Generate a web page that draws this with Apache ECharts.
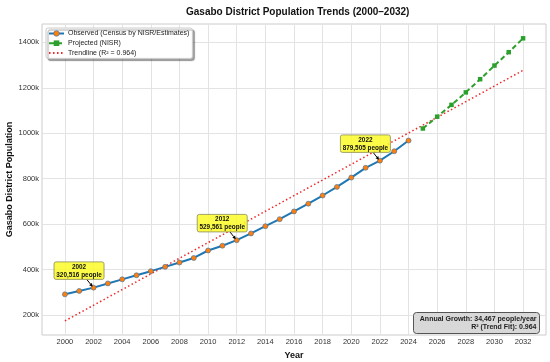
<!DOCTYPE html>
<html><head><meta charset="utf-8">
<script src="https://cdn.jsdelivr.net/npm/echarts@6/dist/echarts.min.js"></script>
<style>html,body{margin:0;padding:0;background:#fff}#c{width:550px;height:362px}</style>
</head><body><div id="c"></div>
<script>
var years = [2000,2001,2002,2003,2004,2005,2006,2007,2008,2009,2010,2011,2012,2013,2014,2015,2016,2017,2018,2019,2020,2021,2022,2023,2024];
var observed = [291000,306000,320516,339000,357000,375000,393000,412000,431000,451000,484000,505000,529561,559000,591000,622000,656000,690000,726000,764000,805000,848000,879505,921000,968000];
var projYears = [2025,2026,2027,2028,2029,2030,2031,2032];
var projected = [1021000,1073000,1125000,1180000,1238000,1298000,1357000,1418000];
var trendYears = [2000,2032];
var trendValues = [174000,1277000];
var xTicks = [2000,2002,2004,2006,2008,2010,2012,2014,2016,2018,2020,2022,2024,2026,2028,2030,2032];
var yTicks = [200000,400000,600000,800000,1000000,1200000,1400000];
var annoYears = [2002,2012,2022];
var annoValues = [320516,529561,879505];
var growthText = 'Annual Growth: 34,467 people/year';
var r2Text = 'R\u00b2 (Trend Fit): 0.964';

var FONT = '"Liberation Sans", Arial, sans-serif';
function pairs(xs, ys){ return xs.map(function(x,i){ return [x, ys[i]]; }); }

var chart = echarts.init(document.getElementById('c'));
chart.setOption({
  animation: false,
  backgroundColor: '#fff',
  title: {
    text: 'Gasabo District Population Trends (2000\u20132032)',
    left: 181, top: 2,
    textStyle: { fontFamily: FONT, fontSize: 10, fontWeight: 'bold', color: '#111' }
  },
  grid: { left: 42, right: 4, top: 24, bottom: 27, show: true, borderColor: '#cccccc', borderWidth: 1,
          containLabel: false, outerBoundsMode: 'none' },
  legend: {
    orient: 'vertical', left: 46, top: 28,
    itemWidth: 15, itemHeight: 7, itemGap: 2.7,
    padding: [2, 3, 2, 2],
    backgroundColor: '#ffffff', borderColor: '#cccccc', borderWidth: 1, borderRadius: 2,
    shadowColor: 'rgba(0,0,0,0.35)', shadowBlur: 1, shadowOffsetX: 2, shadowOffsetY: 2,
    textStyle: { fontFamily: FONT, fontSize: 7, color: '#222', padding: [0,0,0,-1] },
    data: [
      { name: 'Observed (Census by NISR/Estimates)', itemStyle: { color: '#ff7f0e', borderColor: '#3a6fa0', borderWidth: 0.6 } },
      { name: 'Projected (NISR)', itemStyle: { color: '#2ca02c', borderWidth: 0 } },
      { name: 'Trendline (R\u00b2 = 0.964)', itemStyle: { opacity: 0 } }
    ]
  },
  xAxis: {
    type: 'value', min: 1998.4, max: 2033.6,
    name: 'Year', nameLocation: 'middle', nameGap: 14,
    nameTextStyle: { fontFamily: FONT, fontSize: 9, fontWeight: 'bold', color: '#111' },
    axisLine: { show: false },
    axisTick: { show: false, customValues: xTicks },
    axisLabel: { customValues: xTicks, fontFamily: FONT, fontSize: 7.5, color: '#333', margin: 3,
      formatter: function(v){ return String(Math.round(v)); } },
    splitLine: { show: true, lineStyle: { color: '#e3e3e3', width: 1 } }
  },
  yAxis: {
    type: 'value', min: 112000, max: 1481000,
    name: 'Gasabo District Population', nameLocation: 'middle', nameGap: 28, nameMoveOverlap: false,
    nameTextStyle: { fontFamily: FONT, fontSize: 9, fontWeight: 'bold', color: '#111' },
    axisLine: { show: false },
    axisTick: { show: false, customValues: yTicks },
    axisLabel: { customValues: yTicks, fontFamily: FONT, fontSize: 7.5, color: '#333', margin: 3,
      formatter: function(v){ return Math.round(v/1000) + 'k'; } },
    splitLine: { show: true, lineStyle: { color: '#e3e3e3', width: 1 } }
  },
  series: [
    {
      name: 'Trendline (R\u00b2 = 0.964)', type: 'line', data: pairs(trendYears, trendValues),
      showSymbol: false, symbol: 'none', z: 2,
      lineStyle: { color: 'rgba(240,0,0,0.85)', width: 1.5, type: [1.5, 2.5] },
      itemStyle: { color: 'rgba(240,0,0,0.85)' }
    },
    {
      name: 'Observed (Census by NISR/Estimates)', type: 'line', data: pairs(years, observed),
      symbol: 'circle', symbolSize: 5, z: 4,
      lineStyle: { color: '#1f77b4', width: 2 },
      itemStyle: { color: '#ff7f0e', borderColor: '#3a6fa0', borderWidth: 0.6 }
    },
    {
      name: 'Projected (NISR)', type: 'line', data: pairs(projYears, projected),
      symbol: 'rect', symbolSize: 4.5, z: 3,
      lineStyle: { color: '#2ca02c', width: 2, type: [5, 3] },
      itemStyle: { color: '#2ca02c' }
    },
    {
      name: 'annotations', type: 'custom', z: 10,
      data: annoYears.map(function(y,i){ return [y, annoValues[i]]; }),
      renderItem: function(params, api){
        var p = api.coord([api.value(0), api.value(1)]);
        var yr = api.value(0), val = api.value(1);
        var txt = String(yr) + '\n' + Number(val).toLocaleString('en-US') + ' people';
        var cx = p[0] - 14.5, cy = p[1] - 17;
        var w = 50, h = 17.5;
        var sx = p[0] - 6.8, sy = cy + h/2, ex = p[0] - 1, ey = p[1] - 1;
        var dx = ex - sx, dy = ey - sy, L = Math.sqrt(dx*dx+dy*dy);
        var ux = dx/L, uy = dy/L;
        var ah = 3.2, aw = 1.8;
        var bx = ex - ux*ah, by = ey - uy*ah;
        return {
          type: 'group',
          children: [
            { type: 'line', shape: { x1: sx, y1: sy, x2: bx, y2: by }, style: { stroke: '#000', lineWidth: 1 } },
            { type: 'polygon', shape: { points: [[ex,ey],[bx - uy*aw, by + ux*aw],[bx + uy*aw, by - ux*aw]] }, style: { fill: '#000' } },
            { type: 'rect', shape: { x: cx - w/2, y: cy - h/2, width: w, height: h, r: 2 },
              style: { fill: 'rgba(250,250,40,0.85)', stroke: '#8a8a5a', lineWidth: 0.8 } },
            { type: 'text', x: cx, y: cy + 0.3,
              style: { text: txt, fill: '#111', font: 'bold 6.4px ' + FONT, align: 'center', verticalAlign: 'middle', lineHeight: 8 } }
          ]
        };
      }
    }
  ],
  graphic: [
    { type: 'group', left: 413, top: 312,
      children: [
        { type: 'rect', z: 100, shape: { x: 0, y: 0, width: 126, height: 21, r: 3 },
          style: { fill: 'rgb(216,216,216)', stroke: '#555', lineWidth: 1 } },
        { type: 'text', z: 101, x: 123, y: 6.5,
          style: { text: growthText, fill: '#222', font: 'bold 7px ' + FONT, align: 'right', verticalAlign: 'middle' } },
        { type: 'text', z: 101, x: 123, y: 15,
          style: { text: r2Text, fill: '#222', font: 'bold 7px ' + FONT, align: 'right', verticalAlign: 'middle' } }
      ]
    }
  ]
});
</script></body></html>
